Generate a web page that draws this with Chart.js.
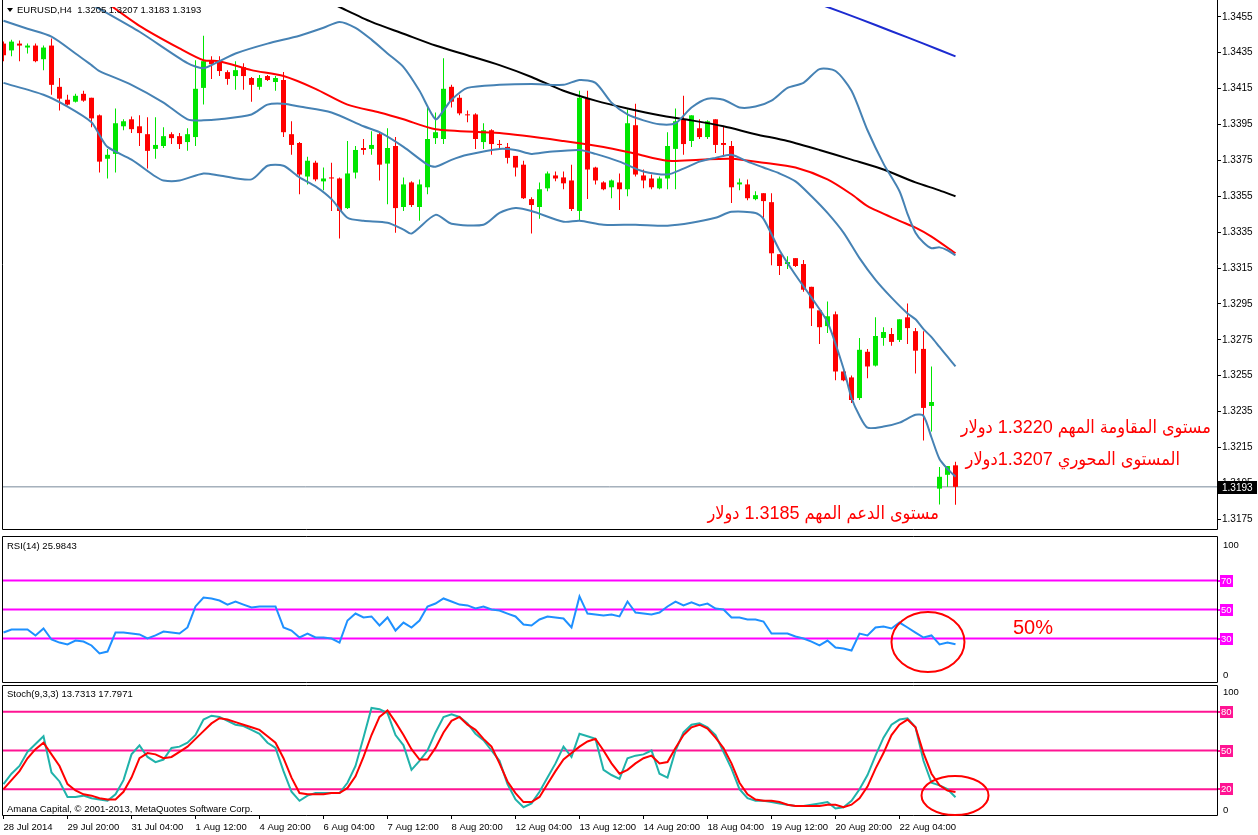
<!DOCTYPE html>
<html>
<head>
<meta charset="utf-8">
<title>EURUSD H4</title>
<script src="https://cdn.jsdelivr.net/npm/chart.js@4.4.1/dist/chart.umd.min.js"></script>
<style>
html,body{margin:0;padding:0;background:#fff;}
body{width:1258px;height:835px;position:relative;overflow:hidden;font-family:"Liberation Sans",Arial,sans-serif;}
canvas{position:absolute;left:0;display:block;}
.lbl{position:absolute;white-space:pre;font-size:9.5px;line-height:11px;color:#000;}
.ar{position:absolute;white-space:nowrap;color:#ff0000;font-size:18px;line-height:20px;direction:rtl;font-family:"Liberation Sans","DejaVu Sans Condensed","DejaVu Sans",sans-serif;}
.tri{position:absolute;left:7px;top:8px;width:0;height:0;border-left:3.5px solid transparent;border-right:3.5px solid transparent;border-top:4px solid #000;}
</style>
</head>
<body>
<canvas id="cMain" width="1258" height="536" style="top:0"></canvas>
<canvas id="cRsi" width="1258" height="149" style="top:535px"></canvas>
<canvas id="cSto" width="1258" height="151" style="top:684px"></canvas>

<div class="tri"></div>
<div class="lbl" style="left:17px;top:4px">EURUSD,H4  1.3205 1.3207 1.3183 1.3193</div>
<div class="lbl" style="left:7px;top:540px">RSI(14) 25.9843</div>
<div class="lbl" style="left:7px;top:688px">Stoch(9,3,3) 13.7313 17.7971</div>
<div class="lbl" style="left:7px;top:803px">Amana Capital, © 2001-2013, MetaQuotes Software Corp.</div>

<div class="ar" style="right:47px;top:417px">مستوى المقاومة المهم 1.3220 دولار</div>
<div class="ar" style="right:78px;top:449px">المستوى المحوري 1.3207دولار</div>
<div class="ar" style="right:319px;top:503px">مستوى الدعم المهم 1.3185 دولار</div>
<div class="ar" style="left:1013px;top:617px;direction:ltr;font-size:20px">50%</div>

<script>
// ---------------- DATA ----------------
const tickBars   = [0,8,16,24,32,40,48,56,64,72,80,88,96,104,112];
const tickLabels = ["28 Jul 2014","29 Jul 20:00","31 Jul 04:00","1 Aug 12:00","4 Aug 20:00","6 Aug 04:00",
                    "7 Aug 12:00","8 Aug 20:00","12 Aug 04:00","13 Aug 12:00","14 Aug 20:00","18 Aug 04:00",
                    "19 Aug 12:00","20 Aug 20:00","22 Aug 04:00"];
const priceTicks = [1.3175,1.3195,1.3215,1.3235,1.3255,1.3275,1.3295,1.3315,1.3335,1.3355,1.3375,1.3395,1.3415,1.3435,1.3455];

const barOpen = [1.34401,1.34363,1.34401,1.34379,1.34390,1.34314,1.34390,1.34160,1.34088,1.34077,
 1.34121,1.34099,1.34001,1.33759,1.33786,1.33940,1.33979,1.33940,1.33896,1.33814,
 1.33830,1.33896,1.33885,1.33852,1.33880,1.34154,1.34308,1.34303,1.34242,1.34220,
 1.34270,1.34209,1.34160,1.34220,1.34187,1.34198,1.33896,1.33847,1.33660,1.33737,
 1.33633,1.33655,1.33649,1.33484,1.33682,1.33819,1.33814,1.33896,1.33732,1.33830,
 1.33490,1.33627,1.33490,1.33600,1.33874,1.33869,1.34160,1.34099,1.34006,1.34006,
 1.33852,1.33918,1.33841,1.33825,1.33775,1.33726,1.33534,1.33490,1.33594,1.33666,
 1.33655,1.33638,1.33468,1.34094,1.33710,1.33627,1.33600,1.33627,1.33589,1.33946,
 1.33666,1.33649,1.33594,1.33649,1.33814,1.33979,1.33858,1.33929,1.33880,1.33979,
 1.33847,1.33830,1.33616,1.33616,1.33534,1.33567,1.33517,1.33227,1.33172,1.33205,
 1.33172,1.33045,1.32914,1.32826,1.32892,1.32573,1.32540,1.32425,1.32683,1.32606,
 1.32760,1.32782,1.32749,1.32875,1.32798,1.32699,1.32381,1.31920,1.31997,1.32050];
const barHigh = [1.34412,1.34423,1.34418,1.34401,1.34401,1.34390,1.34429,1.34209,1.34116,1.34121,
 1.34138,1.34099,1.34006,1.33814,1.34039,1.33979,1.33995,1.34001,1.33990,1.33990,
 1.33935,1.33907,1.33902,1.33929,1.34308,1.34445,1.34330,1.34330,1.34253,1.34303,
 1.34292,1.34215,1.34226,1.34226,1.34220,1.34242,1.33968,1.33852,1.33770,1.33748,
 1.33710,1.33737,1.33655,1.33858,1.33830,1.33869,1.33913,1.33907,1.33929,1.33880,
 1.33655,1.33633,1.33644,1.34045,1.34017,1.34319,1.34171,1.34116,1.34028,1.34012,
 1.33957,1.33924,1.33863,1.33847,1.33775,1.33748,1.33545,1.33627,1.33688,1.33688,
 1.33688,1.33726,1.34138,1.34138,1.33715,1.33633,1.33644,1.33677,1.34034,1.34066,
 1.33699,1.33671,1.33660,1.33907,1.34039,1.34110,1.34001,1.33979,1.33973,1.33979,
 1.33940,1.33858,1.33649,1.33644,1.33578,1.33567,1.33567,1.33227,1.33216,1.33205,
 1.33194,1.33045,1.32914,1.32963,1.32908,1.32590,1.32551,1.32760,1.32699,1.32875,
 1.32820,1.32815,1.32864,1.32952,1.32815,1.32798,1.32601,1.32041,1.32046,1.32070];
const barLow = [1.34303,1.34330,1.34303,1.34346,1.34297,1.34253,1.34116,1.34028,1.34056,1.34072,
 1.34077,1.33935,1.33682,1.33649,1.33682,1.33918,1.33902,1.33830,1.33704,1.33759,
 1.33819,1.33841,1.33814,1.33803,1.33830,1.34061,1.34204,1.34220,1.34171,1.34143,
 1.34143,1.34077,1.34143,1.34193,1.34138,1.33880,1.33781,1.33561,1.33616,1.33633,
 1.33583,1.33468,1.33314,1.33479,1.33649,1.33781,1.33781,1.33638,1.33506,1.33347,
 1.33468,1.33490,1.33413,1.33561,1.33841,1.33841,1.34045,1.34001,1.33963,1.33814,
 1.33814,1.33781,1.33814,1.33732,1.33660,1.33534,1.33342,1.33424,1.33578,1.33633,
 1.33589,1.33468,1.33413,1.33534,1.33616,1.33583,1.33539,1.33474,1.33550,1.33660,
 1.33594,1.33589,1.33589,1.33589,1.33589,1.33781,1.33825,1.33869,1.33869,1.33791,
 1.33770,1.33512,1.33583,1.33528,1.33528,1.33430,1.33166,1.33111,1.33144,1.33155,
 1.33018,1.32826,1.32727,1.32787,1.32524,1.32518,1.32397,1.32414,1.32535,1.32601,
 1.32716,1.32716,1.32738,1.32727,1.32562,1.32189,1.32239,1.31832,1.31931,1.31830];
const barClose = [1.34336,1.34412,1.34390,1.34390,1.34303,1.34379,1.34171,1.34094,1.34061,1.34110,
 1.34083,1.33984,1.33743,1.33781,1.33957,1.33968,1.33924,1.33902,1.33803,1.33836,
 1.33885,1.33874,1.33841,1.33896,1.34149,1.34303,1.34286,1.34248,1.34204,1.34253,
 1.34220,1.34171,1.34209,1.34198,1.34209,1.33907,1.33836,1.33671,1.33748,1.33644,
 1.33649,1.33649,1.33468,1.33677,1.33808,1.33808,1.33836,1.33726,1.33819,1.33484,
 1.33616,1.33501,1.33616,1.33869,1.33907,1.34149,1.34077,1.34012,1.34001,1.33869,
 1.33918,1.33841,1.33836,1.33764,1.33710,1.33539,1.33501,1.33589,1.33677,1.33649,
 1.33622,1.33479,1.34099,1.33699,1.33638,1.33589,1.33638,1.33589,1.33957,1.33671,
 1.33638,1.33600,1.33649,1.33830,1.33968,1.33841,1.34001,1.33880,1.33968,1.33836,
 1.33836,1.33600,1.33627,1.33539,1.33556,1.33523,1.33232,1.33161,1.33183,1.33161,
 1.33029,1.32925,1.32820,1.32881,1.32573,1.32524,1.32414,1.32694,1.32601,1.32771,
 1.32793,1.32738,1.32864,1.32815,1.32689,1.32370,1.32403,1.31986,1.32046,1.31930];

// indicator lines: [bar index, price]
const bbUpper = [[0,1.34868],[5,1.34786],[11,1.34621],[17,1.34467],[23,1.34292],[25,1.34264],[27,1.34303],
 [29,1.34346],[33,1.34401],[37,1.34445],[40,1.34489],[42,1.34522],[44,1.34489],[46,1.34423],[48,1.34346],
 [50,1.34270],[52,1.34138],[54,1.33979],[55,1.34028],[56,1.34088],[58,1.34154],[62,1.34171],[66,1.34176],
 [70,1.34171],[72,1.34198],[74,1.34182],[76,1.34072],[78,1.34006],[80,1.33973],[82,1.33951],[84,1.33957],
 [86,1.34045],[88,1.34094],[90,1.34088],[92,1.34045],[94,1.34050],[96,1.34083],[98,1.34154],[100,1.34182],
 [102,1.34259],[104,1.34248],[106,1.34138],[108,1.33918],[110,1.33732],[112,1.33578],[113,1.33452],
 [114,1.33347],[115,1.33292],[116,1.33260],[117,1.33265],[118,1.33249],[119,1.33221]];
const bbMiddle = [[0,1.34528],[3,1.34484],[6,1.34440],[9,1.34346],[11,1.34281],[12,1.34248],[16,1.34171],
 [20,1.34072],[23,1.33979],[25,1.33973],[27,1.33979],[31,1.34006],[33,1.34061],[35,1.34066],[37,1.34050],
 [41,1.34017],[45,1.33940],[47,1.33907],[50,1.33825],[53,1.33726],[54,1.33715],[56,1.33753],[58,1.33781],
 [62,1.33814],[64,1.33808],[66,1.33786],[68,1.33797],[72,1.33808],[74,1.33786],[77,1.33743],[80,1.33688],
 [83,1.33671],[85,1.33704],[87,1.33743],[89,1.33764],[91,1.33781],[93,1.33743],[95,1.33710],[97,1.33677],
 [99,1.33633],[101,1.33550],[103,1.33457],[105,1.33347],[107,1.33205],[109,1.33084],[111,1.32985],
 [113,1.32897],[114,1.32864],[115,1.32809],[116,1.32765],[117,1.32710],[118,1.32656],[119,1.32601]];
const bbLower = [[0,1.34182],[5,1.34116],[8,1.34050],[11,1.33963],[12,1.33891],[13,1.33825],[16,1.33754],
 [19,1.33660],[20,1.33638],[22,1.33638],[25,1.33677],[27,1.33666],[31,1.33644],[33,1.33720],[35,1.33720],
 [37,1.33655],[39,1.33605],[41,1.33534],[43,1.33430],[45,1.33413],[48,1.33402],[50,1.33364],[51,1.33342],
 [54,1.33446],[56,1.33397],[60,1.33391],[62,1.33457],[64,1.33485],[66,1.33468],[70,1.33408],[72,1.33413],
 [75,1.33391],[79,1.33391],[83,1.33386],[86,1.33402],[89,1.33430],[91,1.33463],[94,1.33457],[95,1.33424],
 [97,1.33249],[99,1.33111],[101,1.32985],[103,1.32848],[105,1.32590],[106,1.32425],[107,1.32326],
 [108,1.32260],[110,1.32266],[112,1.32288],[114,1.32332],[115,1.32326],[116,1.32205],[117,1.32085],
 [118,1.32030],[119,1.31986]];
const maRed = [[12,1.34659],[17,1.34500],[22,1.34374],[25,1.34308],[27,1.34303],[31,1.34253],[35,1.34220],
 [39,1.34149],[43,1.34061],[47,1.34017],[50,1.33979],[54,1.33924],[62,1.33902],[70,1.33858],[75,1.33825],
 [79,1.33787],[83,1.33748],[87,1.33754],[91,1.33759],[95,1.33737],[99,1.33710],[103,1.33644],[106,1.33561],
 [108,1.33495],[112,1.33413],[114,1.33375],[116,1.33325],[119,1.33232]];
const maBlack = [[40,1.34648],[42,1.34605],[46,1.34522],[50,1.34456],[54,1.34390],[58,1.34336],[62,1.34281],
 [66,1.34215],[70,1.34138],[74,1.34083],[78,1.34039],[82,1.34001],[86,1.33973],[90,1.33940],[94,1.33896],
 [98,1.33858],[102,1.33808],[106,1.33754],[110,1.33699],[114,1.33627],[117,1.33583],[119,1.33550]];
const maBlue = [[101,1.34637],[103,1.34605],[107,1.34539],[111,1.34470],[115,1.34401],[119,1.34330]];

const rsiValues = [34.1,36.2,36.2,36.2,32.1,36.9,29.3,27.2,25.9,28.6,
 27.9,25.2,19.7,21.0,34.1,34.1,33.4,32.8,30.0,32.1,
 34.8,34.1,33.4,37.6,52.1,58.3,57.6,56.2,53.4,55.5,
 53.4,51.4,52.1,52.1,52.1,37.6,35.5,30.7,33.4,30.7,
 30.7,30.0,27.2,42.4,47.2,44.5,45.2,39.0,44.5,35.5,
 41.0,37.6,42.4,52.1,54.1,57.6,55.5,53.4,52.8,50.7,
 52.1,50.0,49.3,47.2,45.2,39.7,39.0,43.1,45.2,44.5,
 43.8,37.6,59.0,47.2,46.6,45.9,46.6,45.2,55.5,47.9,
 47.2,46.6,47.9,52.1,55.5,52.8,55.0,52.8,54.1,50.7,
 50.0,44.5,44.5,43.1,43.1,41.7,33.4,33.4,33.4,31.4,
 30.0,27.9,25.2,28.6,23.8,23.1,21.7,33.4,32.1,37.6,
 38.3,36.9,41.0,37.6,34.1,30.7,32.1,25.9,27.2,25.98];
const rsiLevels = [70,50,30];

const stochK = [24,32,38,49,55,61,33,26,14,14, 15,13,12,11,16,27,47,54,45,41,
 43,52,53,56,62,74,77,76,73,70, 69,66,63,56,52,34,18,11,15,17,
 17,17,17,25,38,60,83,82,79,62, 54,35,42,50,64,76,78,76,71,63,
 58,50,42,24,12,6,9,18,29,40, 53,45,63,61,59,35,31,28,44,46,
 47,50,32,29,50,64,70,71,68,62, 49,36,20,13,11,11,10,9,8,7,
 7,8,9,10,5,6,11,20,31,46, 60,70,74,75,68,42,25,23,20,13.73];
const stochD = [20,27,34,44,51,56,47,38,24,19, 16,15,13,12,12,18,29,44,48,47,
 44,45,49,53,59,65,71,75,74,72, 70,68,66,61,56,44,29,17,16,16,
 16,17,17,21,30,45,62,76,81,72, 62,51,43,43,52,64,73,76,70,66,
 59,53,40,26,17,10,10,14,24,34, 43,48,53,57,59,50,40,32,35,40,
 44,46,40,41,52,62,68,70,67,60, 52,40,25,16,12,11,11,10,8,7,
 7,7,7,8,8,6,8,13,22,36, 48,62,70,74,68,48,32,23,19,17.80];
const stochLevels = [80,50,20];

// ---------------- RENDER ----------------
const FONT = '"Liberation Sans", Arial, sans-serif';
Chart.defaults.font.family = FONT;
Chart.defaults.font.size = 10;
Chart.defaults.color = '#000';

const XMIN = -0.1875, XMAX = 151.6875;   // 8 px per H4 bar
const BULL = '#00e600', BEAR = '#ff0000';
const lastPrice = barClose[barClose.length - 1];

const pairs = arr => arr.map(([x, y]) => ({x, y}));
const series = arr => arr.map((y, x) => ({x, y}));
const candleColors = barClose.map((c, i) => c >= barOpen[i] ? BULL : BEAR);

const lineDs = (data, color, order, width) => ({
  type: 'line', data, borderColor: color, borderWidth: width || 2, pointRadius: 0,
  tension: 0.25, fill: false, order
});
const levelDs = (lvl, color) => ({
  type: 'line', data: [{x: XMIN, y: lvl}, {x: XMAX, y: lvl}], borderColor: color,
  borderWidth: 2, pointRadius: 0, order: 5
});

function framePlugin(drawTop, extendTop) {
  return {
    id: 'frame',
    afterDraw(chart) {
      const {ctx, chartArea: a} = chart;
      const L = a.left + 0.5, R = a.right + 0.5, T = a.top - 0.5, B = a.bottom + 0.5;
      const yTop = extendTop ? 0 : T;
      ctx.save();
      ctx.strokeStyle = '#000'; ctx.lineWidth = 1;
      ctx.beginPath();
      ctx.moveTo(L, yTop); ctx.lineTo(L, B); ctx.lineTo(R, B); ctx.lineTo(R, yTop);
      if (drawTop) { ctx.moveTo(L, T); ctx.lineTo(R, T); }
      ctx.stroke();
      ctx.restore();
    }
  };
}

const priceBox = {
  id: 'pbox',
  afterDraw(chart) {
    const {ctx, chartArea: a, scales: {y}} = chart;
    const py = Math.round(y.getPixelForValue(lastPrice));
    ctx.save();
    ctx.fillStyle = '#000';
    ctx.fillRect(a.right + 1, py - 6, 39, 13);
    ctx.fillStyle = '#fff';
    ctx.font = '10px ' + FONT;
    ctx.textBaseline = 'middle'; ctx.textAlign = 'left';
    ctx.fillText(lastPrice.toFixed(4), a.right + 5, py + 1);
    ctx.restore();
  }
};

function sideLabels(levels, color, topOff, botOff) {
  return {
    id: 'side',
    afterDraw(chart) {
      const {ctx, chartArea: a, scales: {y}} = chart;
      ctx.save();
      ctx.font = '9.5px ' + FONT;
      ctx.textBaseline = 'middle'; ctx.textAlign = 'left';
      ctx.fillStyle = '#000';
      ctx.fillText('100', a.right + 6, y.getPixelForValue(100) + topOff);
      ctx.fillText('0', a.right + 6, y.getPixelForValue(0) - botOff);
      levels.forEach(l => {
        const py = Math.round(y.getPixelForValue(l));
        ctx.fillStyle = color;
        ctx.fillRect(a.right + 1, py - 1, 3, 2);
        ctx.fillRect(a.right + 3, py - 6, 13, 12);
        ctx.fillStyle = '#fff';
        ctx.fillText(String(l), a.right + 4, py + 0.5);
      });
      ctx.restore();
    }
  };
}

function ellipsePlugin(bar, val, rx, ry) {
  return {
    id: 'ell',
    afterDraw(chart) {
      const {ctx, scales: {x, y}} = chart;
      ctx.save();
      ctx.strokeStyle = '#ff0000'; ctx.lineWidth = 2;
      ctx.beginPath();
      ctx.ellipse(x.getPixelForValue(bar), y.getPixelForValue(val), rx, ry, 0, 0, Math.PI * 2);
      ctx.stroke();
      ctx.restore();
    }
  };
}

const baseOpts = {
  responsive: false, animation: false, events: [], devicePixelRatio: 1,
  plugins: {legend: {display: false}, tooltip: {enabled: false}}
};
const hiddenX = {type: 'linear', min: XMIN, max: XMAX, display: false, offset: false};

// Main price chart
new Chart(document.getElementById('cMain'), {
  type: 'bar',
  data: {
    datasets: [
      lineDs(pairs(bbUpper), '#4682b4', 0),
      lineDs(pairs(bbMiddle), '#4682b4', 0),
      lineDs(pairs(bbLower), '#4682b4', 0),
      lineDs(pairs(maRed), '#ff0000', 1),
      lineDs(pairs(maBlack), '#000000', 1),
      lineDs(pairs(maBlue), '#1c2bd0', 1),
      {type: 'bar', data: barOpen.map((o, i) => ({x: i, y: [o, barClose[i]]})),
       backgroundColor: candleColors, barThickness: 5, grouped: false, minBarLength: 1,
       borderWidth: 0, inflateAmount: 0, order: 3},
      {type: 'bar', data: barLow.map((l, i) => ({x: i, y: [l, barHigh[i]]})),
       backgroundColor: candleColors, barThickness: 1, grouped: false,
       borderWidth: 0, inflateAmount: 0, order: 4},
      {type: 'line', data: [{x: XMIN, y: lastPrice}, {x: XMAX, y: lastPrice}],
       borderColor: '#778899', borderWidth: 1, pointRadius: 0, order: 6}
    ]
  },
  options: Object.assign({}, baseOpts, {
    layout: {padding: {left: 2, top: 3, right: 0, bottom: 3}},
    scales: {
      x: hiddenX,
      y: {
        type: 'linear', position: 'right', min: 1.31695, max: 1.34605,
        afterFit(s) { s.width = 41; },
        afterBuildTicks(s) { s.ticks = priceTicks.map(v => ({value: v})); },
        ticks: {callback: v => Number(v).toFixed(4), color: '#000', font: {size: 10}, padding: 1, autoSkip: false},
        grid: {drawOnChartArea: false, drawTicks: true, tickLength: 4, color: '#000'},
        border: {display: false}
      }
    }
  }),
  plugins: [framePlugin(false, true), priceBox]
});

// RSI panel
new Chart(document.getElementById('cRsi'), {
  type: 'line',
  data: {
    datasets: [
      {data: series(rsiValues), borderColor: '#1e90ff', borderWidth: 2, pointRadius: 0, tension: 0, order: 0},
      ...rsiLevels.map(l => levelDs(l, '#ff00ff'))
    ]
  },
  options: Object.assign({}, baseOpts, {
    layout: {padding: {left: 2, top: 2, right: 0, bottom: 2}},
    scales: {
      x: hiddenX,
      y: {type: 'linear', position: 'right', min: 0, max: 100,
          afterFit(s) { s.width = 41; },
          ticks: {display: false}, grid: {display: false}, border: {display: false}}
    }
  }),
  plugins: [framePlugin(true, false), sideLabels(rsiLevels, '#ff00ff', 8, 7), ellipsePlugin(115.56, 27.6, 36.5, 30)]
});

// Stochastic panel
new Chart(document.getElementById('cSto'), {
  type: 'line',
  data: {
    datasets: [
      {data: series(stochK), borderColor: '#20b2aa', borderWidth: 2, pointRadius: 0, tension: 0, order: 1},
      {data: series(stochD), borderColor: '#ff0000', borderWidth: 2, pointRadius: 0, tension: 0, order: 0},
      ...stochLevels.map(l => levelDs(l, '#ff1493'))
    ]
  },
  options: Object.assign({}, baseOpts, {
    layout: {padding: {left: 2, top: 2, right: 0, bottom: 0}},
    scales: {
      x: {
        type: 'linear', min: XMIN, max: XMAX, offset: false, position: 'bottom',
        afterFit(s) { s.height = 20; },
        afterBuildTicks(s) { s.ticks = tickBars.map(v => ({value: v})); },
        ticks: {autoSkip: false, maxRotation: 0, minRotation: 0, align: 'start', color: '#000',
                font: {size: 9.5}, padding: 3,
                callback: v => tickLabels[tickBars.indexOf(v)]},
        grid: {drawOnChartArea: false, drawTicks: true, tickLength: 4, color: '#000'},
        border: {display: false}
      },
      y: {type: 'linear', position: 'right', min: 0, max: 100,
          afterFit(s) { s.width = 41; },
          ticks: {display: false}, grid: {display: false}, border: {display: false}}
    }
  }),
  plugins: [framePlugin(true, false), sideLabels(stochLevels, '#ff1493', 6, 5), ellipsePlugin(118.94, 15.1, 33.5, 19.5)]
});
</script>
</body>
</html>
